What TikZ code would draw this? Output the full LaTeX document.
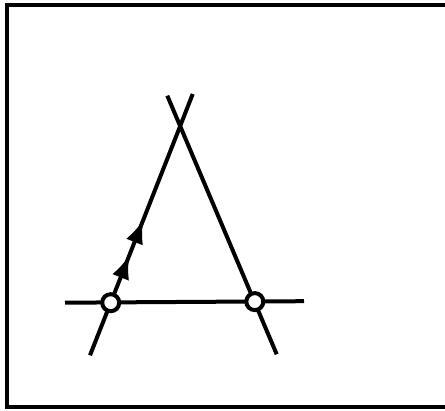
\documentclass[tikz,border=0pt]{standalone}
\usetikzlibrary{decorations.markings,arrows.meta}
\begin{document}
\begin{tikzpicture}[x=1pt,y=-1pt,
  ln/.style={line width=4pt},
  ring/.style={circle,draw,fill=white,line width=4pt,minimum size=17pt,inner sep=0pt},
  tipmark/.tip={Latex[length=24pt 0,width=18pt 0]},
  arrowed/.style={postaction={decorate},decoration={markings,
     mark=at position 0.27 with {\arrow{tipmark}},
     mark=at position 0.47 with {\arrow{tipmark}}}}]
\useasboundingbox (0,0) rectangle (445,411);
\begin{scope}
\clip (0,0) rectangle (445,411);
\draw[line width=4pt] (7,5) rectangle (460,407);
\end{scope}
% coordinates
\coordinate (lb) at (90,355.3);
\coordinate (lt) at (192.7,94);
\coordinate (rt) at (167.3,95.7);
\coordinate (rb) at (276.7,354.3);
\coordinate (hl) at (65,302.7);
\coordinate (hr) at (304,301.2);
\coordinate (A) at (180.2,126);
\coordinate (Lc) at (110.7,302.7);
\coordinate (Rc) at (254.8,301.6);
% lines
\draw[ln] (hl) -- (hr);
\draw[ln] (lb) -- (Lc);
\draw[ln,arrowed] (Lc) -- (A);
\draw[ln] (A) -- (lt);
\draw[ln] (rt) -- (rb);
% rings
\node[ring] (L) at (Lc) {};
\node[ring] (R) at (Rc) {};
\end{tikzpicture}
\end{document}
